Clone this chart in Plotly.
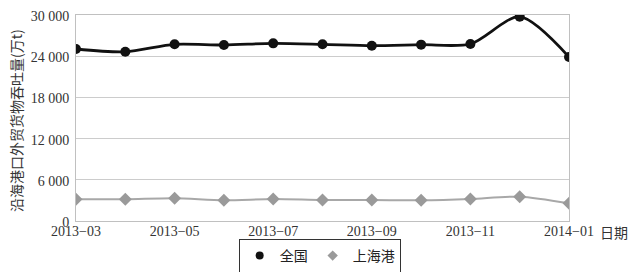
import plotly.graph_objects as go

months = ["2013-03", "2013-04", "2013-05", "2013-06", "2013-07", "2013-08",
          "2013-09", "2013-10", "2013-11", "2013-12", "2014-01"]
national = [25050, 24650, 25730, 25630, 25870, 25730, 25530, 25680, 25780, 29750, 23880]
shanghai = [3160, 3160, 3300, 3010, 3200, 3060, 3060, 3010, 3200, 3540, 2580]

ytick_vals = [0, 6000, 12000, 18000, 24000, 30000]
ytick_text = ["0", "6 000", "12 000", "18 000", "24 000", "30 000"]
xtick_vals = months[::2]
xtick_text = [m.replace("-", "\u2212") for m in xtick_vals]

serif = "Liberation Serif"
cjk = "Noto Sans CJK SC"

black = "#111111"
gray = "#9a9a9a"

fig = go.Figure()
fig.add_trace(go.Scatter(
    x=months, y=national, name="全国", mode="lines+markers", showlegend=False,
    line=dict(color=black, width=2.8, shape="spline", smoothing=0.8),
    marker=dict(symbol="circle", size=10, color=black),
))
fig.add_trace(go.Scatter(
    x=months, y=shanghai, name="上海港", mode="lines+markers", showlegend=False,
    line=dict(color="#a8a8a8", width=2, shape="spline", smoothing=0.8),
    marker=dict(symbol="diamond", size=10, color=gray),
))
# legend entries (markers only, as in the reference)
fig.add_trace(go.Scatter(x=[None], y=[None], name="全国", mode="markers",
                         marker=dict(symbol="circle", size=8, color=black)))
fig.add_trace(go.Scatter(x=[None], y=[None], name="上海港", mode="markers",
                         marker=dict(symbol="diamond", size=8, color=gray)))

fig.update_layout(
    width=633, height=272,
    margin=dict(l=76, r=64, t=15, b=51, autoexpand=False),
    paper_bgcolor="white", plot_bgcolor="white",
    showlegend=True,
    legend=dict(
        orientation="h", xref="container", yref="container",
        x=0.505, xanchor="center", y=1 - 239 / 272, yanchor="top",
        bordercolor="#333333", borderwidth=1,
        font=dict(family=cjk, size=14, color="#222222"),
        itemwidth=30, tracegroupgap=0,
    ),
    font=dict(family=serif, size=14, color="#333333"),
)
fig.update_xaxes(
    type="category", range=[0, 10],
    tickvals=xtick_vals, ticktext=xtick_text,
    showgrid=False, showline=True, linecolor="#c0c0c0", linewidth=1,
    mirror=True, ticks="", ticklabelstandoff=-3,
    tickfont=dict(family=serif, size=14, color="#333333"),
)
fig.update_yaxes(
    range=[0, 30000], tickvals=ytick_vals, ticktext=ytick_text,
    showgrid=True, gridcolor="#cccccc", gridwidth=1,
    showline=True, linecolor="#c0c0c0", linewidth=1, mirror=True,
    zeroline=False, ticks="outside", ticklen=3, tickcolor="rgba(0,0,0,0)",
    ticklabelshift=1,
    tickfont=dict(family=serif, size=14, color="#333333"),
)
fig.add_annotation(
    text="沿海港口外贸货物吞吐量(万t)", xref="paper", yref="paper",
    x=-0.122, y=0.49, textangle=-90, showarrow=False,
    xanchor="center", yanchor="middle",
    font=dict(family=cjk, size=14, color="#333333"),
)
fig.add_annotation(
    text="日期", xref="paper", yref="paper",
    x=1.059, y=-0.051, showarrow=False, xanchor="left", yanchor="middle",
    font=dict(family=cjk, size=14, color="#333333"),
)

fig.write_html("out.html")
